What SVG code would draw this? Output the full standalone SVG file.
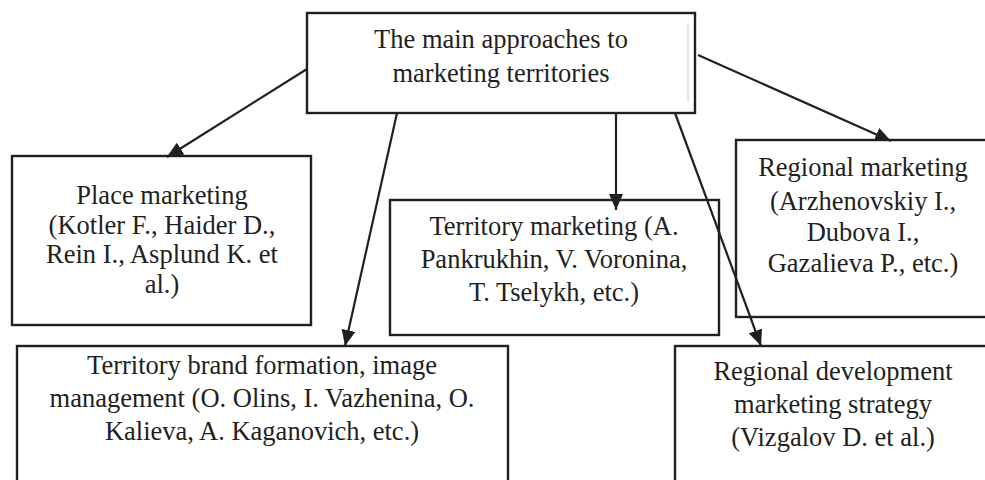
<svg xmlns="http://www.w3.org/2000/svg" width="985" height="480" viewBox="0 0 985 480">
<defs>
<style>
.box{fill:#fff;stroke:#231f20;stroke-width:2.4}
.t{font-family:"Liberation Serif","Times New Roman",serif;font-size:26.5px;fill:#231f20;text-anchor:middle}
.c{stroke:#231f20;stroke-width:2.2;fill:none;marker-end:url(#ah)}
</style>
<marker id="ah" viewBox="0 0 16 14" refX="16" refY="7" markerWidth="16" markerHeight="14" markerUnits="userSpaceOnUse" orient="auto">
<path d="M0,0 L16,7 L0,14 z" fill="#231f20"/>
</marker>
</defs>
<rect width="985" height="480" fill="#fff"/>
<g id="main">
<rect class="box" x="307" y="13" width="388" height="100"/>
<line x1="688" y1="23" x2="688" y2="102" stroke="#c8c8c8" stroke-width="1"/>
<text class="t" x="501" y="48">The main approaches to</text>
<text class="t" x="501" y="82">marketing territories</text>
</g>
<g id="place">
<rect class="box" x="12" y="156" width="299" height="169"/>
<text class="t" x="162" y="204">Place marketing</text>
<text class="t" x="162" y="234">(Kotler F., Haider D.,</text>
<text class="t" x="162" y="263">Rein I., Asplund K. et</text>
<text class="t" x="162" y="293">al.)</text>
</g>
<g id="territory">
<rect class="box" x="390" y="200" width="329" height="135"/>
<text class="t" x="554" y="235">Territory marketing (A.</text>
<text class="t" x="554" y="268">Pankrukhin, V. Voronina,</text>
<text class="t" x="554" y="301">T. Tselykh, etc.)</text>
</g>
<g id="regional">
<rect class="box" x="736" y="140" width="254" height="177"/>
<text class="t" x="863" y="176">Regional marketing</text>
<text class="t" x="863" y="210">(Arzhenovskiy I.,</text>
<text class="t" x="863" y="241">Dubova I.,</text>
<text class="t" x="863" y="272">Gazalieva P., etc.)</text>
</g>
<g id="brand">
<rect class="box" x="17" y="346" width="491" height="150"/>
<text class="t" x="262" y="374">Territory brand formation, image</text>
<text class="t" x="262" y="407">management (O. Olins, I. Vazhenina, O.</text>
<text class="t" x="262" y="440">Kalieva, A. Kaganovich, etc.)</text>
</g>
<g id="development">
<rect class="box" x="675" y="346" width="316" height="150"/>
<text class="t" x="833" y="380">Regional development</text>
<text class="t" x="833" y="413">marketing strategy</text>
<text class="t" x="833" y="446">(Vizgalov D. et al.)</text>
</g>
<g id="connectors">
<line class="c" x1="307" y1="69" x2="167" y2="157"/>
<line class="c" x1="397" y1="113" x2="345" y2="346"/>
<line class="c" x1="616" y1="113" x2="616" y2="210"/>
<line class="c" x1="675" y1="113" x2="761" y2="346"/>
<line class="c" x1="698" y1="55" x2="891" y2="141"/>
</g>
</svg>
